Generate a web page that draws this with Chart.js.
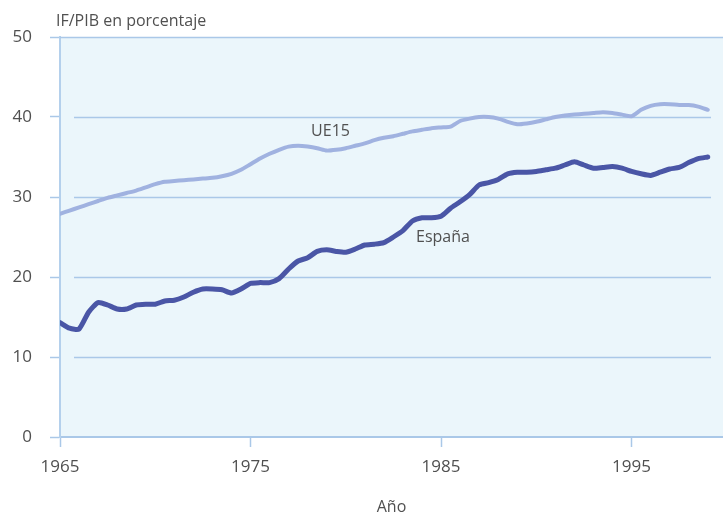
<!DOCTYPE html>
<html>
<head>
<meta charset="utf-8">
<script src="https://cdn.jsdelivr.net/npm/chart.js@4"></script>
<style>
    body { margin: 0; background: #ffffff; }
</style>
</head>
<body>
<canvas id="chart" width="723" height="515"></canvas>
<script>
// half-year steps, 1965 - 1999
const years = [
    1965, 1965.5, 1966, 1966.5, 1967, 1967.5, 1968, 1968.5, 1969, 1969.5,
    1970, 1970.5, 1971, 1971.5, 1972, 1972.5, 1973, 1973.5, 1974, 1974.5,
    1975, 1975.5, 1976, 1976.5, 1977, 1977.5, 1978, 1978.5, 1979, 1979.5,
    1980, 1980.5, 1981, 1981.5, 1982, 1982.5, 1983, 1983.5, 1984, 1984.5,
    1985, 1985.5, 1986, 1986.5, 1987, 1987.5, 1988, 1988.5, 1989, 1989.5,
    1990, 1990.5, 1991, 1991.5, 1992, 1992.5, 1993, 1993.5, 1994, 1994.5,
    1995, 1995.5, 1996, 1996.5, 1997, 1997.5, 1998, 1998.5, 1999
];

const ue15 = [
    27.9, 28.3, 28.7, 29.1, 29.5, 29.9, 30.2, 30.5, 30.8, 31.2,
    31.6, 31.9, 32.0, 32.1, 32.2, 32.3, 32.4, 32.6, 32.9, 33.4,
    34.1, 34.8, 35.4, 35.9, 36.3, 36.4, 36.3, 36.1, 35.8, 35.9,
    36.1, 36.4, 36.7, 37.1, 37.4, 37.6, 37.9, 38.2, 38.4, 38.6,
    38.7, 38.8, 39.5, 39.8, 40.0, 40.0, 39.8, 39.4, 39.1, 39.2,
    39.4, 39.7, 40.0, 40.2, 40.3, 40.4, 40.5, 40.6, 40.5, 40.3,
    40.1, 40.9, 41.4, 41.6, 41.6, 41.5, 41.5, 41.3, 40.9
];

const espana = [
    14.3, 13.6, 13.5, 15.6, 16.8, 16.5, 16.0, 16.0, 16.5, 16.6,
    16.6, 17.0, 17.1, 17.5, 18.1, 18.5, 18.5, 18.4, 18.0, 18.5,
    19.2, 19.3, 19.3, 19.8, 21.0, 22.0, 22.4, 23.2, 23.4, 23.2,
    23.1, 23.5, 24.0, 24.1, 24.3, 25.0, 25.8, 27.0, 27.4, 27.4,
    27.6, 28.6, 29.4, 30.3, 31.5, 31.8, 32.2, 32.9, 33.1, 33.1,
    33.2, 33.4, 33.6, 34.0, 34.4, 34.0, 33.6, 33.7, 33.8, 33.6,
    33.2, 32.9, 32.7, 33.1, 33.5, 33.7, 34.3, 34.8, 35.0
];

const xTicks = [1965, 1975, 1985, 1995];
const yTicks = [0, 10, 20, 30, 40, 50];

const textColor = '#505050';
const gridColor = '#aac8e8';
const fontFamily = '"Open Sans", "Noto Sans", sans-serif';

// light panel, shortened grid lines and the in-chart texts
const panelPlugin = {
    id: 'panel',
    beforeDraw(chart) {
        const { ctx, chartArea } = chart;
        ctx.save();
        ctx.fillStyle = '#ebf6fb';
        ctx.fillRect(chartArea.left, chartArea.top, chartArea.right - chartArea.left, chartArea.bottom - chartArea.top);
        ctx.restore();
    },
    beforeDatasetsDraw(chart) {
        const { ctx, chartArea, scales } = chart;
        ctx.save();
        ctx.strokeStyle = gridColor;
        ctx.lineWidth = 1.5;
        yTicks.forEach(v => {
            const y = Math.round(scales.y.getPixelForValue(v)) + 0.5;
            ctx.beginPath();
            if (v === 50) {
                ctx.moveTo(chartArea.left, y);
                ctx.lineTo(chartArea.right, y);
            } else if (v > 0) {
                ctx.moveTo(chartArea.left + 14, y);
                ctx.lineTo(chartArea.right - 12, y);
            }
            ctx.stroke();
        });
        ctx.restore();
    },
    afterDraw(chart) {
        const { ctx, scales } = chart;
        ctx.save();
        ctx.fillStyle = textColor;
        ctx.font = '16px ' + fontFamily;
        ctx.textBaseline = 'middle';
        ctx.textAlign = 'left';
        ctx.fillText('IF/PIB en porcentaje', 56, 21);
        ctx.textAlign = 'center';
        ctx.fillText('UE15', scales.x.getPixelForValue(1979.2), scales.y.getPixelForValue(38.25));
        ctx.fillText('España', scales.x.getPixelForValue(1985.1), scales.y.getPixelForValue(24.9));
        ctx.restore();
    }
};

new Chart(document.getElementById('chart').getContext('2d'), {
    type: 'line',
    data: {
        datasets: [{
            label: 'UE15',
            data: years.map((yr, i) => ({ x: yr, y: ue15[i] })),
            borderColor: '#a0b2e0',
            borderWidth: 4,
            pointRadius: 0,
            tension: 0.2,
            borderCapStyle: 'round',
            borderJoinStyle: 'round'
        }, {
            label: 'España',
            data: years.map((yr, i) => ({ x: yr, y: espana[i] })),
            borderColor: '#4a56a6',
            borderWidth: 5,
            pointRadius: 0,
            tension: 0.2,
            borderCapStyle: 'round',
            borderJoinStyle: 'round'
        }]
    },
    options: {
        responsive: false,
        animation: false,
        layout: { padding: { top: 37, left: 0, right: 0, bottom: 0 } },
        plugins: {
            legend: { display: false },
            tooltip: { enabled: false }
        },
        scales: {
            x: {
                type: 'linear',
                min: 1965,
                max: 1999.8,
                afterBuildTicks: scale => { scale.ticks = xTicks.map(v => ({ value: v })); },
                afterFit: scale => { scale.height = 78; },
                ticks: {
                    color: textColor,
                    font: { family: fontFamily, size: 17 },
                    padding: 10,
                    maxRotation: 0,
                    callback: v => String(v)
                },
                grid: {
                    drawOnChartArea: false,
                    drawTicks: true,
                    tickLength: 10,
                    tickColor: gridColor,
                    tickWidth: 1.5
                },
                border: { display: true, color: gridColor, width: 2 },
                title: {
                    display: true,
                    text: 'Año',
                    color: textColor,
                    font: { family: fontFamily, size: 16, lineHeight: 1 },
                    padding: { top: 0, bottom: 0 }
                }
            },
            y: {
                min: 0,
                max: 50,
                afterBuildTicks: scale => { scale.ticks = yTicks.map(v => ({ value: v })); },
                afterFit: scale => { scale.width = 60; },
                ticks: {
                    color: textColor,
                    font: { family: fontFamily, size: 17 },
                    padding: 18
                },
                grid: {
                    drawOnChartArea: false,
                    drawTicks: true,
                    tickLength: 10,
                    tickColor: gridColor,
                    tickWidth: 1.5
                },
                border: { display: true, color: '#b4d0ec', width: 2 }
            }
        }
    },
    plugins: [panelPlugin]
});
</script>
</body>
</html>
